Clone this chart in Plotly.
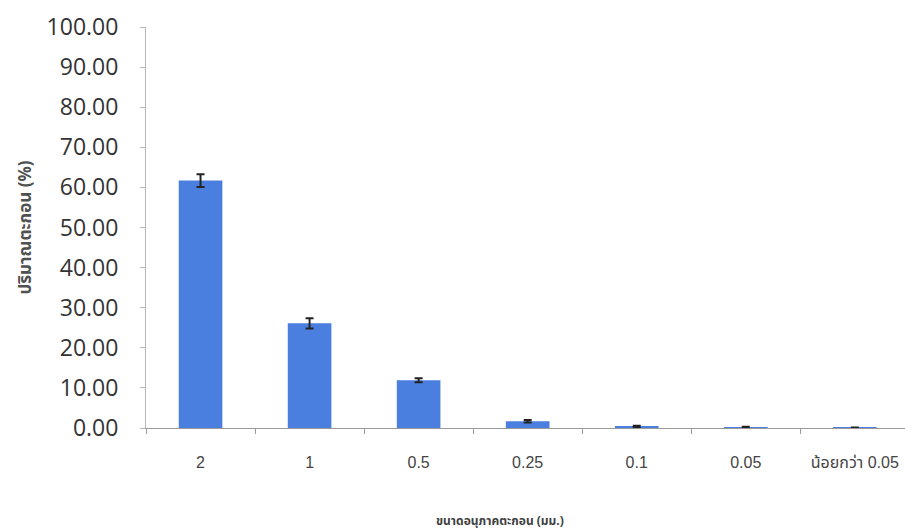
import plotly.graph_objects as go

categories = ["2", "1", "0.5", "0.25", "0.1", "0.05", "น้อยกว่า 0.05"]
values = [61.7, 26.1, 11.9, 1.7, 0.4, 0.2, 0.1]
errors = [1.6, 1.3, 0.5, 0.3, 0.15, 0.1, 0.05]
y_ticks = [0, 10, 20, 30, 40, 50, 60, 70, 80, 90, 100]
x_title = "ขนาดอนุภาคตะกอน (มม.)"
y_title = "ปริมาณตะกอน (%)"

fig = go.Figure()
fig.add_trace(go.Bar(
    x=categories, y=values,
    marker=dict(color="#4a7fe0", line=dict(width=0)),
    error_y=dict(type="data", array=errors, visible=True, color="#222222",
                 thickness=2, width=4),
))

W, H = 905, 531
L, T, B = 146, 27, 103
fig.update_layout(
    width=W, height=H,
    margin=dict(l=L, r=0, t=T, b=B, autoexpand=False),
    paper_bgcolor="white", plot_bgcolor="white",
    bargap=0.6, showlegend=False,
    xaxis=dict(
        type="category", range=[-0.5, 6.46], automargin=False,
        showline=True, linecolor="#9a9a9a", linewidth=1,
        ticks="outside", tickson="boundaries", ticklen=5, tickcolor="#9a9a9a",
        showgrid=False, zeroline=False,
        tickfont=dict(family="Liberation Sans Narrow, Liberation Sans, Noto Sans Thai, sans-serif",
                      size=16, color="#444444"),
        ticklabelstandoff=20,
    ),
    yaxis=dict(
        range=[0, 100], tickvals=y_ticks, automargin=False,
        ticktext=[f"{v:.2f}" for v in y_ticks],
        showline=True, linecolor="#b8b8b8", linewidth=1,
        ticks="outside", ticklen=5, tickcolor="#b8b8b8",
        showgrid=False, zeroline=False,
        tickfont=dict(family="Open Sans, sans-serif", size=23, color="#333333"),
        ticklabelstandoff=17,
        title=dict(text=f"<b>{y_title}</b>", standoff=10,
                   font=dict(family="Noto Sans Thai, Noto Sans, sans-serif", size=17, color="#505050")),
    ),
)

fig.add_annotation(
    text=f"<b>{x_title}</b>", xref="paper", yref="paper",
    x=(500 - L) / (W - L), y=-(521 - 428) / (428 - T),
    xanchor="center", yanchor="middle", showarrow=False,
    font=dict(family="Noto Sans Thai, Noto Sans, sans-serif", size=12, color="#404040"),
)

fig.write_html("out.html", config={"displayModeBar": False},
               post_script="document.body.style.margin='0';")
